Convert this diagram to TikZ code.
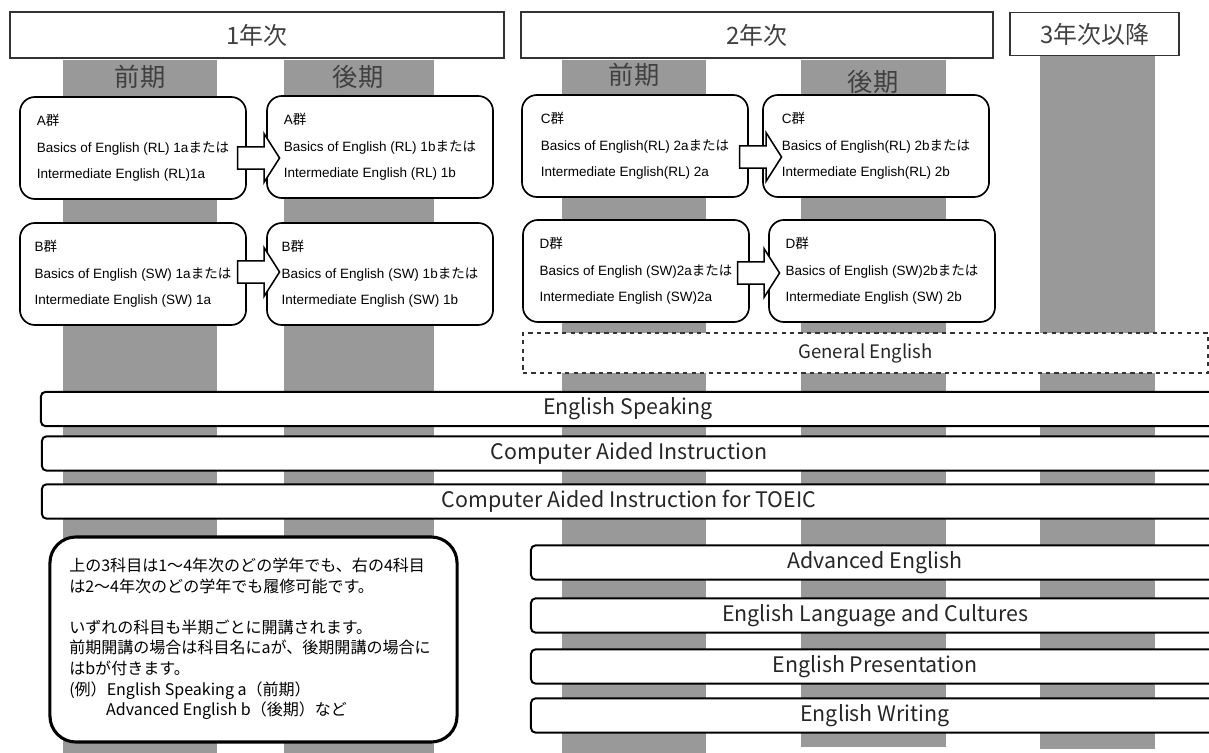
\documentclass[tikz,border=0pt]{standalone}
\usepackage{fontspec}
\setmainfont{Liberation Sans}
\newfontfamily\jafont{Noto Sans CJK JP}
\usetikzlibrary{shapes.arrows}

\definecolor{bargray}{HTML}{999999}
\definecolor{labelgray}{HTML}{404040}
\newcommand{\ja}[1]{{\jafont #1}}

\tikzset{
	yearbox/.style={draw=black!80, line width=1.1pt, fill=white, text=labelgray, minimum height=1.15cm, font=\jafont\fontsize{17}{20}\selectfont},
	termlabel/.style={text=labelgray, font=\jafont\fontsize{18}{20}\selectfont},
	groupbox/.style={draw=black, line width=1.2pt, fill=white, rounded corners=0.375cm, minimum width=5.65cm, minimum height=2.55cm, align=left, font=\fontsize{9.6}{19}\selectfont},
	flowarrow/.style={single arrow, draw=black, line width=1.1pt, fill=white, inner sep=0.26cm, minimum height=1.05cm, single arrow head extend=0.33cm, single arrow tip angle=115},
	coursebox/.style={draw=black, line width=1.4pt, fill=white, rounded corners=0.12cm, minimum height=0.86cm, text=black!85, font=\jafont\fontsize{15.2}{18}\selectfont},
	notebox/.style={draw=black, line width=2.2pt, fill=white, rounded corners=0.65cm, minimum width=10.175cm, minimum height=5.125cm}
}

\begin{document}
\begin{tikzpicture}[x=0.025cm, y=-0.025cm]

	\useasboundingbox (0,0) rectangle (1209,753);
	\clip (0,0) rectangle (1209,753);

	% semester columns
	\fill[bargray] (63,60) rectangle (217,753);
	\fill[bargray] (284,60) rectangle (434,753);
	\fill[bargray] (562,60) rectangle (706,753);
	\fill[bargray] (801,60) rectangle (946,747);
	\fill[bargray] (1040,56) rectangle (1155,749);

	% years
	\node[yearbox, minimum width=12.35cm] (year1) at (257,35) {1年次};
	\node[yearbox, minimum width=11.8cm] (year2) at (757,35) {2年次};
	\node[yearbox, minimum width=4.225cm, minimum height=1.075cm] (year3) at (1094.5,34) {3年次以降};

	\node[termlabel] (firstA) at (140,77) {前期};
	\node[termlabel] (secondA) at (358,77) {後期};
	\node[termlabel] (firstB) at (634,75) {前期};
	\node[termlabel] (secondB) at (873,82) {後期};

	% required groups
	\node[groupbox] (grpA1) at (133,148) {A\ja{群}\\ Basics of English (RL) 1a\ja{または}\\ Intermediate English (RL)1a};
	\node[groupbox] (grpA2) at (380,147) {A\ja{群}\\ Basics of English (RL) 1b\ja{または}\\ Intermediate English (RL) 1b};
	\node[groupbox] (grpB1) at (133,274) {B\ja{群}\\ Basics of English (SW) 1a\ja{または}\\ Intermediate English (SW) 1a};
	\node[groupbox] (grpB2) at (380,274) {B\ja{群}\\ Basics of English (SW) 1b\ja{または}\\ Intermediate English (SW) 1b};
	\node[groupbox] (grpC1) at (635,146) {C\ja{群}\\ Basics of English(RL) 2a\ja{または}\\ Intermediate English(RL) 2a};
	\node[groupbox] (grpC2) at (876,146) {C\ja{群}\\ Basics of English(RL) 2b\ja{または}\\ Intermediate English(RL) 2b};
	\node[groupbox] (grpD1) at (636,271) {D\ja{群}\\ Basics of English (SW)2a\ja{または}\\ Intermediate English (SW)2a};
	\node[groupbox] (grpD2) at (882,271) {D\ja{群}\\ Basics of English (SW)2b\ja{または}\\ Intermediate English (SW) 2b};

	\node[flowarrow] (arrA) at (255,158) {};
	\node[flowarrow] (arrB) at (255,272) {};
	\node[flowarrow] (arrC) at (757,157) {};
	\node[flowarrow] (arrD) at (755,273) {};

	% elective courses
	\node[coursebox, dashed, draw=black!80, line width=1pt, rounded corners=0, minimum width=17.125cm, minimum height=1cm, font=\jafont\fontsize{13.2}{16}\selectfont] (general) at (865.5,353) {General English};
	\node[coursebox, minimum width=29.35cm] (speaking) at (628,409) {English Speaking};
	\node[coursebox, minimum width=29.35cm] (cai) at (629,453.5) {Computer Aided Instruction};
	\node[coursebox, minimum width=29.35cm] (caitoeic) at (629,501.5) {Computer Aided Instruction for TOEIC};
	\node[coursebox, minimum width=17.2cm] (advanced) at (875,562.5) {Advanced English};
	\node[coursebox, minimum width=17.2cm] (cultures) at (875,615.5) {English Language and Cultures};
	\node[coursebox, minimum width=17.2cm] (presentation) at (875,666.5) {English Presentation};
	\node[coursebox, minimum width=17.2cm] (writing) at (875,715.5) {English Writing};

	% note
	\node[notebox] (note) at (253.5,639.5) {};
	\node[anchor=north west, align=left, inner sep=0, font=\jafont\fontsize{11.4}{14.6}\selectfont] (notetext) at (69,558) {上の3科目は1～4年次のどの学年でも、右の4科目\\ は2～4年次のどの学年でも履修可能です。\\[14.6pt] いずれの科目も半期ごとに開講されます。\\ 前期開講の場合は科目名にaが、後期開講の場合に\\ はbが付きます。\\ (例）English Speaking a（前期）\\ \hspace*{2.3em}Advanced English b（後期）など};

\end{tikzpicture}
\end{document}
